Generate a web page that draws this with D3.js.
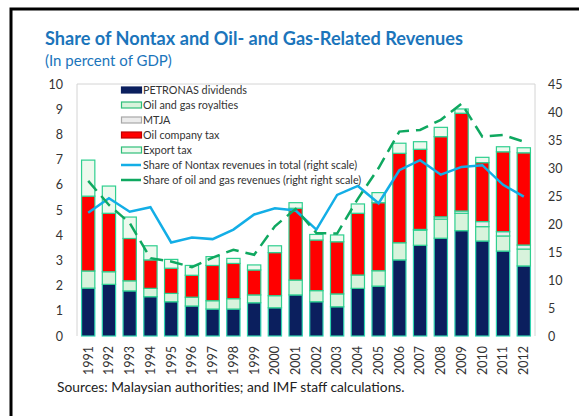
<!DOCTYPE html>
<html lang="en">
<head>
<meta charset="utf-8">
<title>Share of Nontax and Oil- and Gas-Related Revenues</title>
<script src="https://d3js.org/d3.v7.min.js"></script>
<style>
* { margin: 0; padding: 0; }
body { background: #fff; font-family: 'Lato', sans-serif; }
</style>
</head>
<body>
<script>
let w = 579;
let h = 416;

// data (bars in percent of GDP, lines on right scale)
let years = ["1991","1992","1993","1994","1995","1996","1997","1998","1999","2000","2001",
             "2002","2003","2004","2005","2006","2007","2008","2009","2010","2011","2012"];
let petronas  = [1.90,2.05,1.79,1.56,1.36,1.19,1.07,1.07,1.32,1.12,1.63,1.36,1.16,1.89,1.98,3.02,3.60,3.88,4.18,3.77,3.37,2.78];
let royalties = [0.68,0.50,0.40,0.33,0.33,0.35,0.33,0.41,0.31,0.48,0.59,0.44,0.51,0.53,0.61,0.68,0.60,0.76,0.69,0.57,0.60,0.67];
let mtja      = [0,0,0,0,0,0,0,0,0,0,0,0,0,0,0,0,0.03,0.09,0.09,0.20,0.17,0.16];
let oilTax    = [2.97,2.32,1.68,1.13,1.00,0.87,1.40,1.40,0.99,1.71,2.85,2.01,2.07,2.45,2.70,3.55,3.18,3.18,3.88,2.34,3.17,3.66];
let exportTax = [1.43,1.08,0.85,0.56,0.35,0.39,0.35,0.20,0.20,0.27,0.22,0.22,0.27,0.37,0.40,0.40,0.30,0.37,0.17,0.21,0.20,0.20];
let nontaxShare = [22.0,24.6,22.2,23.0,16.7,17.6,17.3,19.0,21.7,22.8,22.4,19.0,25.2,26.8,23.7,29.6,31.4,28.8,30.2,30.5,27.0,24.9];
let oilGasShare = [27.7,23.4,20.2,13.9,13.3,12.3,14.0,15.4,14.5,19.6,22.7,18.4,18.3,24.5,30.0,36.5,36.8,38.6,41.5,35.6,35.9,34.7];
let leftTicks  = [0,1,2,3,4,5,6,7,8,9,10];
let rightTicks = [0,5,10,15,20,25,30,35,40,45];

let series = [
  {key: "petronas",  name: "PETRONAS dividends",    values: petronas,  fill: "#0b1f5e", stroke: "#2fd3b0", lgStroke: "#0b1f5e"},
  {key: "royalties", name: "Oil and gas royalties", values: royalties, fill: "#d8f3dc", stroke: "#2fcf8f", lgStroke: "#2fbf7a"},
  {key: "mtja",      name: "MTJA",                  values: mtja,      fill: "#ececec", stroke: "#2fcf8f", lgStroke: "#a8a8a8"},
  {key: "oilTax",    name: "Oil company tax",       values: oilTax,    fill: "#ff0000", stroke: "#2fcf8f", lgStroke: "#c00000"},
  {key: "exportTax", name: "Export tax",            values: exportTax, fill: "#eef9ee", stroke: "#2fcf8f", lgStroke: "#2fbf7a"}
];

let plotLeft = 77, plotRight = 535, plotTop = 84, plotBottom = 336;
let blueColor = "#13aee6";
let greenColor = "#0fa860";

let svg = d3.select("body").append("svg")
  .attr("width", w)
  .attr("height", h);

// shrink/grow font so the text spans the width seen in the picture
function fitWidth(sel, target){
  let fs = +sel.attr("font-size");
  let len = sel.node().getComputedTextLength();
  if (len > 0) sel.attr("font-size", (fs * target / len).toFixed(2));
  return sel;
}

// outer frame (black, runs off the page on the right and bottom)
svg.append("rect")
  .attr("x", 11).attr("y", 9)
  .attr("width", 700).attr("height", 500)
  .attr("fill", "none")
  .attr("stroke", "#000")
  .attr("stroke-width", 3);

let title = svg.append("text")
  .text("Share of Nontax and Oil- and Gas-Related Revenues")
  .attr("x", 45).attr("y", 45)
  .attr("font-size", 16).attr("font-weight", "bold")
  .attr("fill", "#1b75bb");
fitWidth(title, 418);

let subtitle = svg.append("text")
  .text("(In percent of GDP)")
  .attr("x", 45).attr("y", 66)
  .attr("font-size", 13.5)
  .attr("fill", "#1b75bb");
fitWidth(subtitle, 127);

let x = d3.scaleBand()
  .domain(years)
  .range([plotLeft, plotRight])
  .paddingInner(0.36)
  .paddingOuter(0.22);

let yLeft = d3.scaleLinear().domain([0, 10]).range([plotBottom, plotTop]);
let yRight = d3.scaleLinear().domain([0, 45]).range([plotBottom, plotTop]);

// plot frame
svg.append("path")
  .attr("d", `M${plotLeft},${plotBottom}V${plotTop}H${plotRight}V${plotBottom}`)
  .attr("fill", "none")
  .attr("stroke", "#d4d4d4")
  .attr("stroke-width", 1);

// stacked bars
let table = years.map(function(y, i){
  let row = {year: y};
  series.forEach(s => { row[s.key] = s.values[i]; });
  return row;
});
let stacked = d3.stack().keys(series.map(s => s.key))(table);

svg.append("g")
  .selectAll("g")
  .data(stacked)
  .enter()
  .append("g")
  .attr("fill", (d, i) => series[i].fill)
  .attr("stroke", (d, i) => series[i].stroke)
  .selectAll("rect")
  .data(d => d.filter(v => v[1] - v[0] > 0))
  .enter()
  .append("rect")
  .attr("x", d => x(d.data.year))
  .attr("y", d => yLeft(d[1]))
  .attr("width", x.bandwidth())
  .attr("height", d => yLeft(d[0]) - yLeft(d[1]))
  .attr("stroke-width", 1.2);

// lines on right scale
let line = d3.line()
  .x((d, i) => x(years[i]) + x.bandwidth() / 2)
  .y(d => yRight(d));

svg.append("path")
  .datum(nontaxShare)
  .attr("d", line)
  .attr("fill", "none")
  .attr("stroke", blueColor)
  .attr("stroke-width", 2.5);

svg.append("path")
  .datum(oilGasShare)
  .attr("d", line)
  .attr("fill", "none")
  .attr("stroke", greenColor)
  .attr("stroke-width", 2.5)
  .attr("stroke-dasharray", "13,7");

// axes
let leftAxis = svg.append("g")
  .attr("transform", "translate(" + (plotLeft - 14) + ",0)")
  .call(d3.axisLeft(yLeft).tickValues(leftTicks).tickSize(0).tickPadding(0));
let rightAxis = svg.append("g")
  .attr("transform", "translate(" + (plotRight + 13) + ",0)")
  .call(d3.axisRight(yRight).tickValues(rightTicks).tickSize(0).tickPadding(0));
[leftAxis, rightAxis].forEach(function(g){
  g.select(".domain").remove();
  g.selectAll("text")
    .attr("font-family", "Lato, sans-serif")
    .attr("font-size", 12.5)
    .attr("fill", "#333");
});

let xAxis = svg.append("g")
  .attr("transform", "translate(0," + (plotBottom + 10) + ")")
  .call(d3.axisBottom(x).tickSize(0).tickPadding(0));
xAxis.select(".domain").remove();
xAxis.selectAll("text")
  .attr("font-family", "Lato, sans-serif")
  .attr("font-size", 12.5)
  .attr("fill", "#333")
  .attr("transform", "rotate(-90)")
  .attr("text-anchor", "end")
  .attr("dy", "0.35em")
  .attr("x", 0)
  .attr("y", 0);

// legend
let legend = svg.append("g").attr("transform", "translate(121,90)");
let rowGap = 15;
series.forEach(function(s, i){
  legend.append("rect")
    .attr("x", 0.5).attr("y", i * rowGap - 3)
    .attr("width", 20).attr("height", 6)
    .attr("fill", s.fill)
    .attr("stroke", s.lgStroke)
    .attr("stroke-width", 1.2);
  legend.append("text")
    .text(s.name)
    .attr("x", 22).attr("y", i * rowGap)
    .attr("dy", "0.35em")
    .attr("font-size", 10.8)
    .attr("fill", "#333");
});
let lineItems = [
  {name: "Share of Nontax revenues in total (right scale)", color: blueColor},
  {name: "Share of oil and gas revenues (right right scale)", color: greenColor}
];
lineItems.forEach(function(l, j){
  let yy = (series.length + j) * rowGap;
  legend.append("line")
    .attr("x1", 0).attr("x2", 20)
    .attr("y1", yy).attr("y2", yy)
    .attr("stroke", l.color)
    .attr("stroke-width", 2.5);
  legend.append("text")
    .text(l.name)
    .attr("x", 22).attr("y", yy)
    .attr("dy", "0.35em")
    .attr("font-size", 10.8)
    .attr("fill", "#333");
});

let sources = svg.append("text")
  .text("Sources: Malaysian authorities; and IMF staff calculations.")
  .attr("x", 57).attr("y", 392)
  .attr("font-size", 12.5)
  .attr("fill", "#222");
fitWidth(sources, 348);
</script>
</body>
</html>
